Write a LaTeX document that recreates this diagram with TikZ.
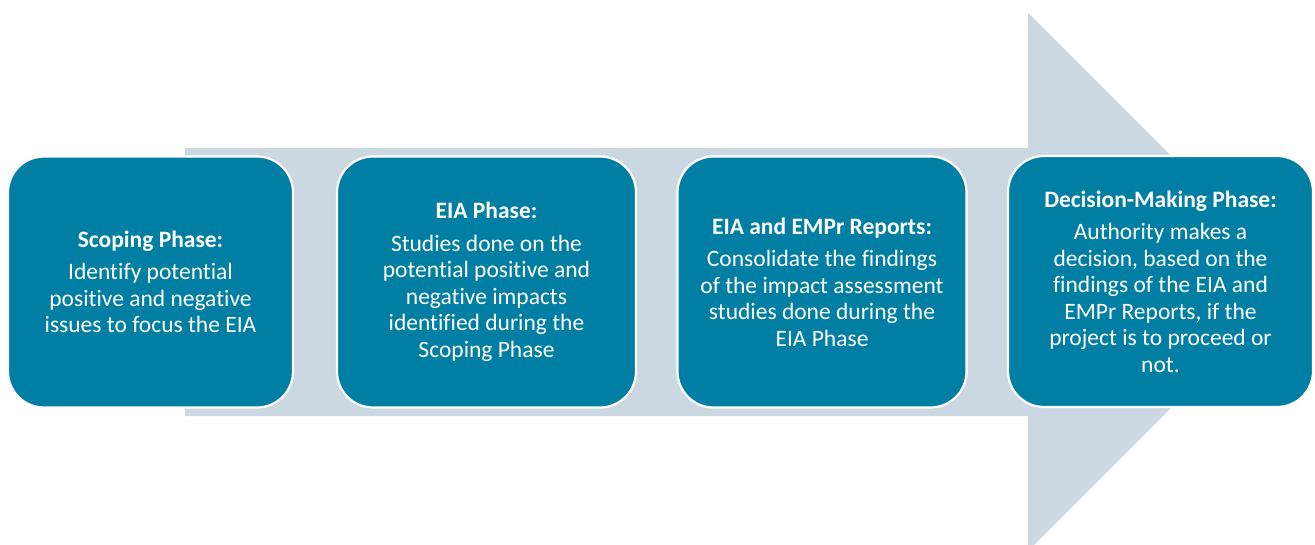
\documentclass[tikz,border=0pt]{standalone}
\usepackage{fontspec}
\setmainfont{Carlito}[Ligatures=NoCommon]
\usepackage{tikz}
\usetikzlibrary{positioning}
\definecolor{phasecolor}{RGB}{0, 126, 163}
\definecolor{flowcolor}{RGB}{203, 216, 225}
\tikzset{
phasetext/.style={
  align=center,
  font=\fontsize{23.5}{26.5}\selectfont,
  text=white
},
phaseblock/.style={
  draw=white,
  line width=2.2pt,
  rounded corners=36pt,
  fill=phasecolor,
  minimum height=251pt,
  inner sep=0pt,
  phasetext
},
flowarrow/.style={
  fill=flowcolor,
  draw=none
}
}

\begin{document}
\begin{tikzpicture}[x=1pt,y=-1pt]
  \useasboundingbox (0,0) rectangle (1315,545);
  % big background arrow
  \begin{scope}
    \clip (0,0) rectangle (1315,545);
    \fill[flowarrow] (185,148) -- (1028,148) -- (1028,13) -- (1297,282)
      -- (1028,551) -- (1028,416) -- (185,416) -- cycle;
  \end{scope}
  % phase boxes
  \node[phaseblock, minimum width=285pt] (scoping) at (150.5,282)
    {\textbf{Scoping Phase:}\\[6pt]
     Identify potential\\ positive and negative\\ issues to focus the EIA};
  \node[phaseblock, minimum width=299pt] (eia) at (486.5,282)
    {\textbf{EIA Phase:}\\[6pt]
     Studies done on the\\ potential positive and\\ negative impacts\\
     identified during the\\ Scoping Phase};
  \node[phaseblock, minimum width=289pt] (reports) at (822,282)
    {\textbf{EIA and EMPr Reports:}\\[6pt]
     Consolidate the findings\\ of the impact assessment\\
     studies done during the\\ EIA Phase};
  \node[phaseblock, minimum width=305pt] (decision) at (1160.5,281.5)
    {\textbf{Decision-Making Phase:}\\[6pt]
     Authority makes a\\ decision, based on the\\ findings of the EIA and\\
     EMPr Reports, if the\\ project is to proceed or\\ not.};
\end{tikzpicture}
\end{document}
